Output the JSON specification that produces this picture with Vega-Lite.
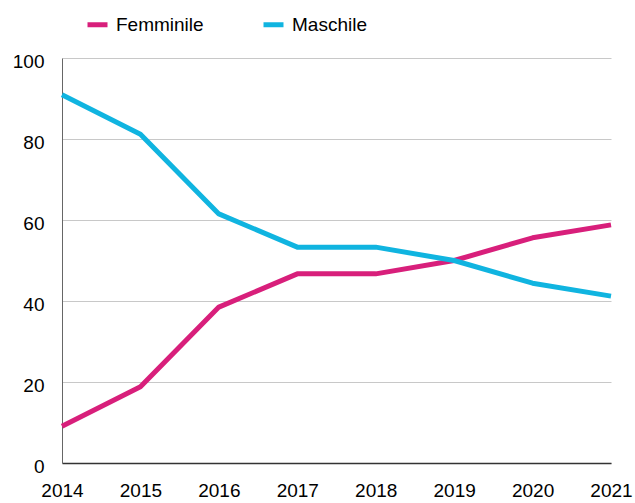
{
  "$schema": "https://vega.github.io/schema/vega-lite/v6.json",
  "autosize": "none",
  "width": 549,
  "height": 405,
  "padding": {"left": 62, "top": 58, "right": 24, "bottom": 40},
  "background": "white",
  "config": {
    "font": "Liberation Sans",
    "view": {"stroke": null}
  },
  "data": {
    "values": [
      {"anno": "2014", "genere": "Femminile", "valore": 9.1},
      {"anno": "2015", "genere": "Femminile", "valore": 18.8},
      {"anno": "2016", "genere": "Femminile", "valore": 38.5},
      {"anno": "2017", "genere": "Femminile", "valore": 46.7},
      {"anno": "2018", "genere": "Femminile", "valore": 46.7},
      {"anno": "2019", "genere": "Femminile", "valore": 50},
      {"anno": "2020", "genere": "Femminile", "valore": 55.6},
      {"anno": "2021", "genere": "Femminile", "valore": 58.8},
      {"anno": "2014", "genere": "Maschile", "valore": 90.9},
      {"anno": "2015", "genere": "Maschile", "valore": 81.2},
      {"anno": "2016", "genere": "Maschile", "valore": 61.5},
      {"anno": "2017", "genere": "Maschile", "valore": 53.3},
      {"anno": "2018", "genere": "Maschile", "valore": 53.3},
      {"anno": "2019", "genere": "Maschile", "valore": 50},
      {"anno": "2020", "genere": "Maschile", "valore": 44.4},
      {"anno": "2021", "genere": "Maschile", "valore": 41.2}
    ]
  },
  "mark": {"type": "line", "strokeWidth": 5, "strokeJoin": "round", "strokeCap": "butt"},
  "encoding": {
    "x": {
      "field": "anno",
      "type": "ordinal",
      "scale": {"type": "point", "padding": 0},
      "axis": {
        "title": null,
        "labelAngle": 0,
        "labelFontSize": 19,
        "labelColor": "#000000",
        "labelPadding": 18,
        "ticks": false,
        "domainColor": "#333333",
        "domainWidth": 1.5,
        "labelOverlap": false,
        "labelBound": false,
        "grid": false
      }
    },
    "y": {
      "field": "valore",
      "type": "quantitative",
      "scale": {"domain": [0, 100], "nice": false},
      "axis": {
        "title": null,
        "values": [0, 20, 40, 60, 80, 100],
        "labelFontSize": 19,
        "labelColor": "#000000",
        "labelPadding": 18,
        "labelOffset": 3,
        "ticks": false,
        "domainColor": "#666666",
        "domainWidth": 1,
        "gridColor": "#c8c8c8",
        "gridWidth": 1
      }
    },
    "color": {
      "field": "genere",
      "type": "nominal",
      "scale": {"domain": ["Femminile", "Maschile"], "range": ["#d81f7b", "#10b4e0"]},
      "legend": {
        "title": null,
        "orient": "none",
        "direction": "horizontal",
        "legendX": 23,
        "legendY": -46,
        "symbolType": "stroke",
        "symbolSize": 400,
        "symbolStrokeWidth": 5,
        "labelFontSize": 19,
        "labelColor": "#000000",
        "labelOffset": 6,
        "columnPadding": 49
      }
    }
  }
}
